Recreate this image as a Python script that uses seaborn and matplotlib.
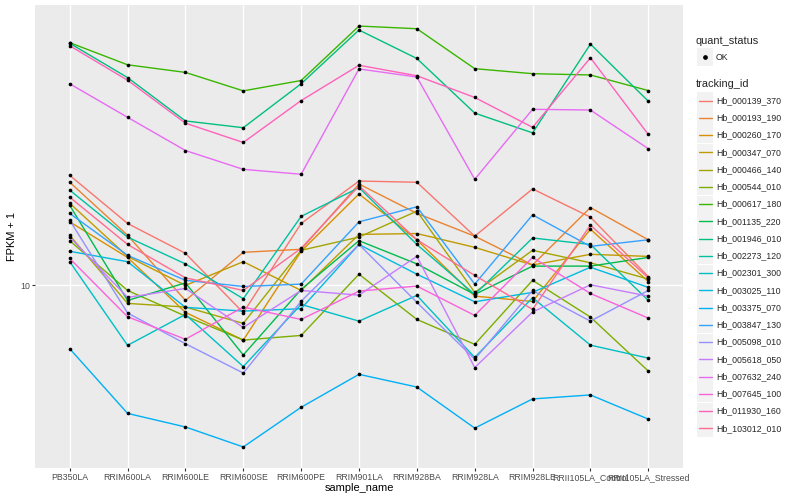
import numpy as np
import pandas as pd
import seaborn as sns
import matplotlib
matplotlib.use("Agg")
from matplotlib import pyplot as plt
from matplotlib.lines import Line2D
from matplotlib.patches import Rectangle
from matplotlib.ticker import NullLocator


sample_name = ['PB350LA', 'RRIM600LA', 'RRIM600LE', 'RRIM600SE', 'RRIM600PE', 'RRIM901LA',
               'RRIM928BA', 'RRIM928LA', 'RRIM928LE', 'RRII105LA_Control', 'RRII105LA_Stressed']

tracking_id = ['Hb_000139_370', 'Hb_000193_190', 'Hb_000260_170', 'Hb_000347_070',
               'Hb_000466_140', 'Hb_000544_010', 'Hb_000617_180', 'Hb_001135_220',
               'Hb_001946_010', 'Hb_002273_120', 'Hb_002301_300', 'Hb_003025_110',
               'Hb_003375_070', 'Hb_003847_130', 'Hb_005098_010', 'Hb_005618_050',
               'Hb_007632_240', 'Hb_007645_100', 'Hb_011930_160', 'Hb_103012_010']

# FPKM + 1, one list per gene, in sample_name order
hb_000139_370 = [23.3, 16.1, 12.8, 8.11, 16.1, 22.3, 22.1, 14.6, 21.0, 16.9, 10.7]
hb_000193_190 = [22.1, 14.7, 8.91, 12.9, 13.2, 21.8, 17.4, 14.6, 11.7, 18.2, 14.2]
hb_000260_170 = [16.3, 12.4, 8.13, 6.57, 13.0, 20.2, 14.2, 9.21, 8.84, 15.4, 10.3]
hb_000347_070 = [18.8, 12.5, 10.0, 12.0, 9.62, 14.8, 14.9, 13.4, 11.7, 12.7, 12.5]
hb_000466_140 = [14.7, 8.71, 8.47, 7.47, 13.1, 14.5, 17.7, 9.48, 13.1, 11.9, 10.5]
hb_000544_010 = [14.1, 9.62, 7.90, 6.57, 6.81, 10.9, 7.70, 6.36, 10.4, 7.84, 5.18]
hb_000617_180 = [64.6, 54.5, 51.4, 44.6, 48.3, 73.4, 71.9, 52.9, 50.9, 50.4, 44.7]
hb_001135_220 = [18.5, 8.91, 10.2, 5.86, 9.70, 14.1, 11.8, 9.33, 11.6, 11.6, 12.4]
hb_001946_010 = [64.3, 49.4, 35.4, 33.6, 47.1, 71.2, 57.2, 37.6, 32.3, 63.9, 41.2]
hb_002273_120 = [20.8, 14.5, 11.8, 9.03, 17.0, 21.2, 13.7, 9.33, 14.4, 13.7, 8.91]
hb_002301_300 = [12.0, 6.31, 8.00, 5.36, 8.64, 7.60, 9.26, 5.75, 9.10, 6.32, 5.72]
hb_003025_110 = [13.0, 12.0, 8.45, 8.21, 8.36, 13.7, 10.9, 8.82, 9.48, 11.5, 9.85]
hb_003375_070 = [6.15, 3.74, 3.37, 2.89, 3.92, 5.05, 4.58, 3.34, 4.18, 4.31, 3.58]
hb_003847_130 = [17.4, 12.6, 10.4, 9.92, 10.1, 16.3, 18.3, 10.1, 17.2, 13.5, 14.2]
hb_005098_010 = [16.5, 8.09, 6.39, 5.10, 8.86, 13.7, 8.78, 5.67, 9.62, 7.60, 9.62]
hb_005618_050 = [14.5, 9.12, 9.77, 7.24, 9.62, 9.28, 12.5, 5.32, 8.15, 10.05, 9.21]
hb_007632_240 = [47.1, 36.4, 28.2, 24.4, 23.5, 52.8, 49.6, 22.6, 38.7, 38.5, 28.6]
hb_007645_100 = [12.3, 7.86, 6.61, 8.47, 7.70, 9.57, 9.95, 7.94, 12.4, 9.40, 7.78]
hb_011930_160 = [63.1, 48.4, 34.8, 30.0, 41.4, 54.3, 50.1, 42.4, 33.7, 57.5, 31.9]
hb_103012_010 = [19.7, 13.7, 10.6, 9.62, 13.3, 21.5, 14.2, 10.8, 8.32, 15.9, 10.6]

gene_values = [hb_000139_370, hb_000193_190, hb_000260_170, hb_000347_070, hb_000466_140,
               hb_000544_010, hb_000617_180, hb_001135_220, hb_001946_010, hb_002273_120,
               hb_002301_300, hb_003025_110, hb_003375_070, hb_003847_130, hb_005098_010,
               hb_005618_050, hb_007632_240, hb_007645_100, hb_011930_160, hb_103012_010]

# ggplot hue palette, 20 levels
hue_colors = ['#F8766D', '#EA8331', '#D89000', '#C09B00', '#A3A500', '#7CAE00', '#39B600',
              '#00BB4E', '#00BF7D', '#00C1A3', '#00BFC4', '#00BAE0', '#00B0F6', '#35A2FF',
              '#9590FF', '#C77CFF', '#E76BF3', '#FA62DB', '#FF62BC', '#FF6C91']

rows = []
for tid, vals in zip(tracking_id, gene_values):
    for s, v in zip(sample_name, vals):
        rows.append({'tracking_id': tid, 'sample_name': s, 'fpkm': v, 'quant_status': 'OK'})
df = pd.DataFrame(rows)
df['sample_name'] = pd.Categorical(df['sample_name'], categories=sample_name, ordered=True)

sns.set_style('darkgrid', {'axes.facecolor': '#EBEBEB', 'grid.color': 'white'})
plt.rcParams['font.family'] = ['Liberation Sans', 'DejaVu Sans']

W, H = 800, 500
fig = plt.figure(figsize=(8, 5), dpi=100)
fig.patch.set_facecolor('white')
ax = fig.add_axes([35 / W, 1 - 468 / H, (683 - 35) / W, (468 - 5) / H])

sns.lineplot(data=df, x='sample_name', y='fpkm', hue='tracking_id', hue_order=tracking_id,
             palette=hue_colors, linewidth=1.0, errorbar=None, sort=False, legend=False, ax=ax)
sns.scatterplot(data=df, x='sample_name', y='fpkm', color='black', s=7, linewidth=0,
                legend=False, ax=ax, zorder=3)

ax.set_yscale('log')
lo, hi = np.log10(df['fpkm'].min()), np.log10(df['fpkm'].max())
pad = (hi - lo) * 0.05
ax.set_ylim(10 ** (lo - pad), 10 ** (hi + pad))
ax.set_xlim(-0.6, len(sample_name) - 0.4)
ax.set_yticks([10])
ax.set_yticklabels(['10'])
ax.yaxis.set_minor_locator(NullLocator())
ax.grid(True, which='major', color='white', linewidth=1.0)
ax.set_axisbelow(True)
for sp in ax.spines.values():
    sp.set_visible(False)
ax.tick_params(axis='both', length=2, width=0.8, color='#333333', labelcolor='#4D4D4D',
               labelsize=6.3, pad=1.6, bottom=True, left=True)

ax.set_xlabel('sample_name', fontsize=7.9, color='black')
ax.set_ylabel('FPKM + 1', fontsize=7.9, color='black')
ax.xaxis.set_label_coords(0.5, (468 - 488) / 463)
ax.xaxis.label.set_verticalalignment('center')
ax.yaxis.set_label_coords((12 - 35) / 648, 0.5)
ax.yaxis.label.set_verticalalignment('center')
ax.yaxis.label.set_horizontalalignment('center')


# legend, laid out like ggplot's guide boxes
def fx(px):
    return px / W


def fy(py):
    return 1 - py / H


key_w, key_h = 16, 17
key_x = 697
fig.text(fx(696), fy(40.5), 'quant_status', fontsize=7.9, va='center', ha='left')
fig.add_artist(Rectangle((fx(key_x), fy(57 + key_h / 2)), key_w / W, key_h / H,
                         transform=fig.transFigure, facecolor='#F2F2F2', edgecolor='none'))
fig.add_artist(Line2D([fx(key_x + key_w / 2)], [fy(57)], marker='o', markersize=2.4,
                      color='black', linestyle='none', transform=fig.transFigure))
fig.text(fx(716), fy(57), 'OK', fontsize=6.3, va='center', ha='left')

fig.text(fx(696), fy(84), 'tracking_id', fontsize=7.9, va='center', ha='left')
for i, (tid, col) in enumerate(zip(tracking_id, hue_colors)):
    cy = 100.5 + 17.25 * i
    fig.add_artist(Rectangle((fx(key_x), fy(cy + key_h / 2)), key_w / W, key_h / H,
                             transform=fig.transFigure, facecolor='#F2F2F2', edgecolor='none'))
    fig.add_artist(Line2D([fx(key_x + 1.5), fx(key_x + key_w - 1.5)], [fy(cy), fy(cy)],
                          color=col, linewidth=1.0, transform=fig.transFigure))
    fig.text(fx(716), fy(cy), tid, fontsize=6.3, va='center', ha='left')

fig.savefig('out.png', dpi=100)
